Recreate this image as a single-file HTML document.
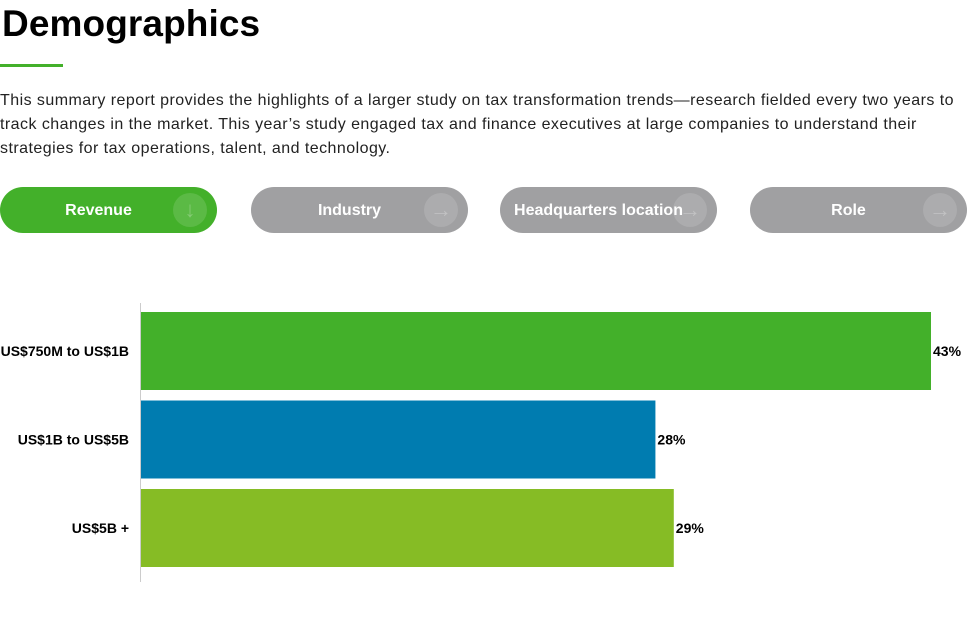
<!DOCTYPE html>
<html><head><meta charset="utf-8"><style>
body{margin:0;width:968px;height:640px;background:#fff;font-family:"Liberation Sans",sans-serif;position:relative;overflow:hidden;color:#000}
h1{position:absolute;left:2px;top:3px;margin:0;font-size:37px;font-weight:bold;letter-spacing:0.1px}
.rule{position:absolute;left:0;top:64px;width:63px;height:3px;background:#43b02a}
p{position:absolute;left:0;top:89px;margin:0;font-size:16px;line-height:24px;width:968px;color:#222;white-space:nowrap;letter-spacing:0.45px}
.btn{position:absolute;top:187px;height:46px;width:217px;border-radius:23px;color:#fff;font-weight:bold;font-size:16px;line-height:48px;text-align:center;box-sizing:border-box;padding-right:20px}
.btn .ic{position:absolute;right:10px;top:6px;width:34px;height:34px;border-radius:50%;background:rgba(255,255,255,0.13);color:rgba(255,255,255,0.25);line-height:34px;font-size:22px;padding:0;text-align:center}
svg{position:absolute;left:0;top:0}
</style></head><body>
<h1>Demographics</h1>
<div class="rule"></div>
<p>This summary report provides the highlights of a larger study on tax transformation trends—research fielded every two years to<br>track changes in the market. This year’s study engaged tax and finance executives at large companies to understand their<br>strategies for tax operations, talent, and technology.</p>
<div class="btn" style="left:0;background:#43b02a">Revenue<span class="ic">↓</span></div>
<div class="btn" style="left:251px;background:#a0a0a2">Industry<span class="ic">→</span></div>
<div class="btn" style="left:500px;background:#a0a0a2">Headquarters location<span class="ic">→</span></div>
<div class="btn" style="left:750px;background:#a0a0a2">Role<span class="ic">→</span></div>
<svg id="chart" width="968" height="640"></svg>
<script>
const categories=["US$750M to US$1B","US$1B to US$5B","US$5B +"];
const values=[43,28,29];
const colors=["#43b02a","#007cb0","#86bc25"];
const svg=document.getElementById('chart');
const NS="http://www.w3.org/2000/svg";
const x0=141,pxPer=790/43,top0=312,band=88.5,bh=78;
const xs=v=>v*pxPer;
const ys=i=>top0+i*band;
const ax=document.createElementNS(NS,'line');
ax.setAttribute('x1',140.5);ax.setAttribute('x2',140.5);ax.setAttribute('y1',303);ax.setAttribute('y2',582);
ax.setAttribute('stroke','#ccc');ax.setAttribute('stroke-width','1');


svg.appendChild(ax);
categories.forEach((c,i)=>{
  const r=document.createElementNS(NS,'rect');
  r.setAttribute('x',x0);r.setAttribute('y',ys(i));r.setAttribute('width',xs(values[i]));r.setAttribute('height',bh);r.setAttribute('fill',colors[i]);
  
  
  svg.appendChild(r);
  const t=document.createElementNS(NS,'text');
  t.setAttribute('x',129);t.setAttribute('y',ys(i)+bh/2+5);t.setAttribute('text-anchor','end');
  t.setAttribute('font-size','14');t.setAttribute('font-weight','bold');t.setAttribute('font-family','Liberation Sans, sans-serif');
  t.textContent=c;
  
  
  svg.appendChild(t);
  const v=document.createElementNS(NS,'text');
  v.setAttribute('x',x0+xs(values[i])+2);v.setAttribute('y',ys(i)+bh/2+5);
  v.setAttribute('font-size','14');v.setAttribute('font-weight','bold');v.setAttribute('font-family','Liberation Sans, sans-serif');
  v.textContent=values[i]+'%';
  
  
  svg.appendChild(v);
});
</script>
</body></html>
